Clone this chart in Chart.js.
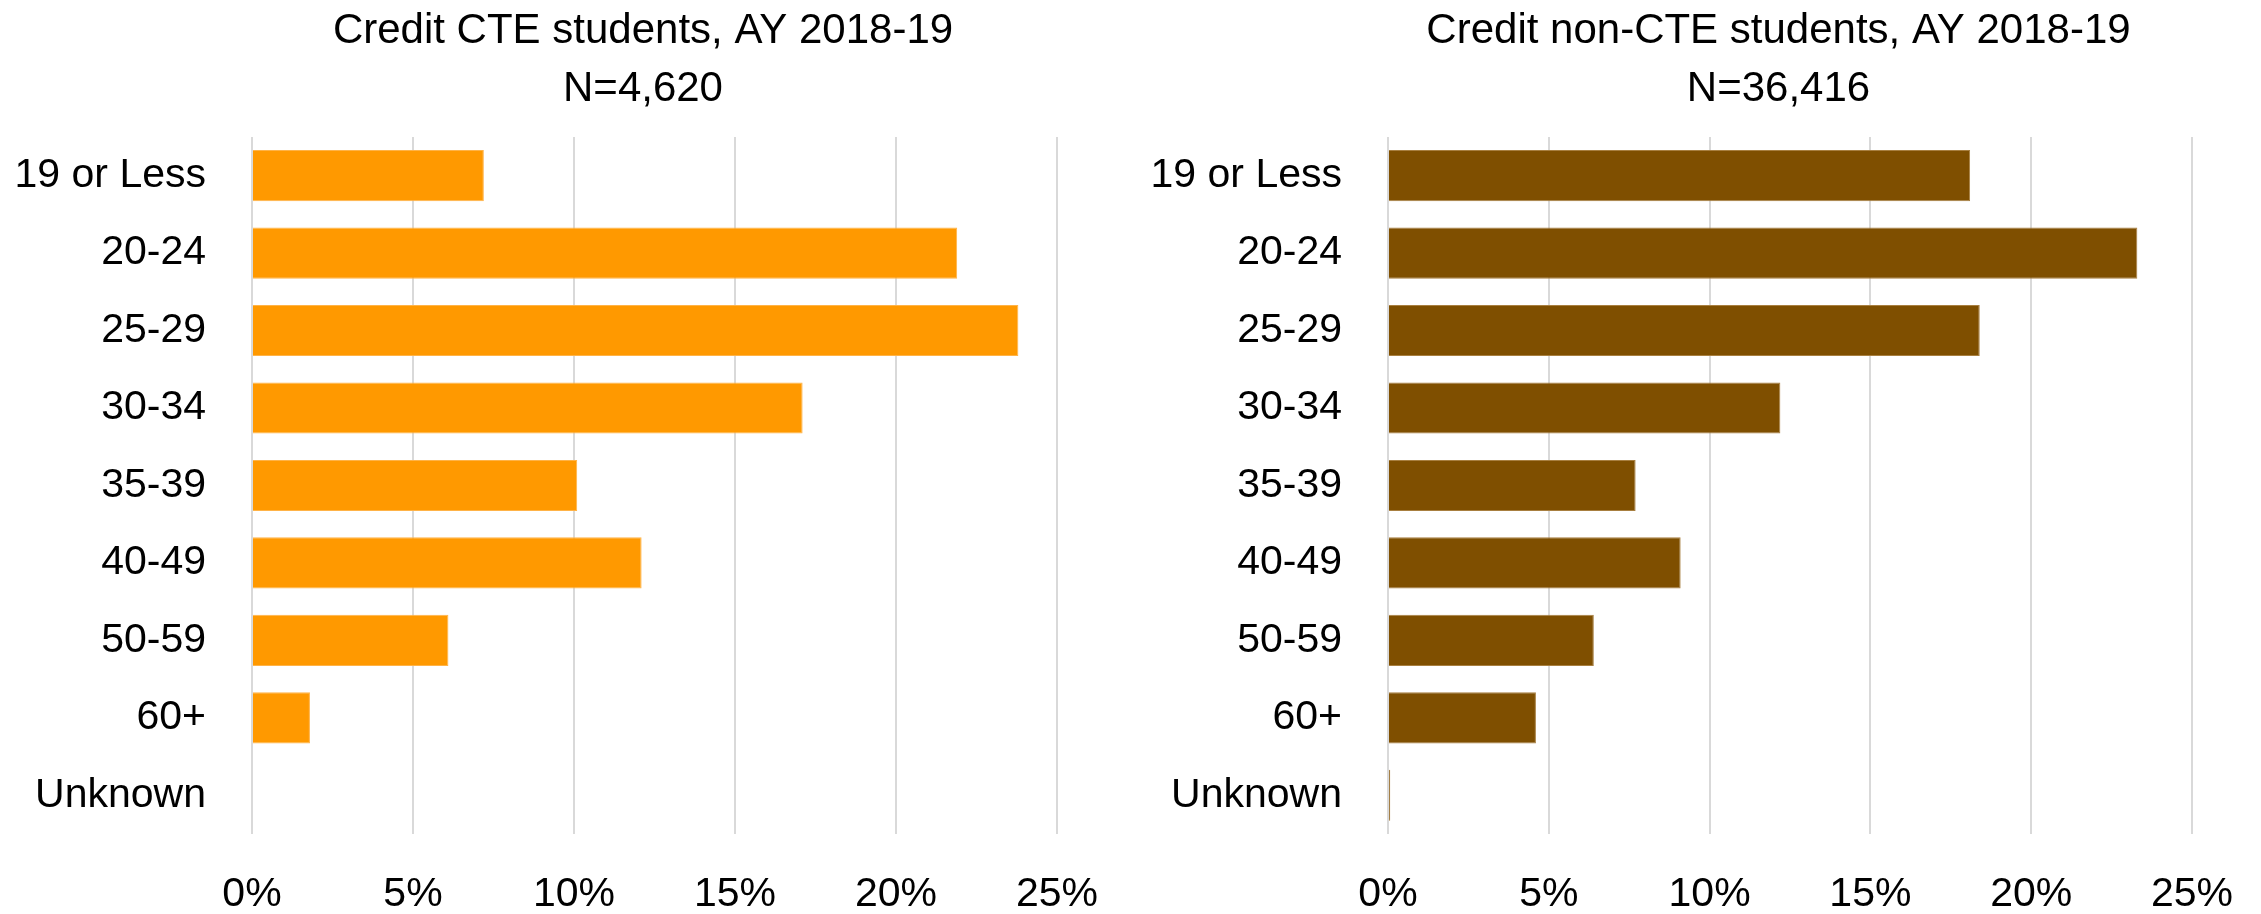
<!DOCTYPE html>
<html>
<head>
<meta charset="utf-8">
<script src="https://cdn.jsdelivr.net/npm/chart.js@4/dist/chart.umd.min.js"></script>
<style>
  html, body { margin: 0; padding: 0; background: #fff; overflow: hidden; width: 2261px; height: 914px; }
  .box { position: absolute; top: 0; height: 914px; }
  #left-box { left: 0; width: 1286px; }
  #right-box { left: 1140px; width: 1277px; }
</style>
</head>
<body>
<div class="box" id="left-box"><canvas id="cte-canvas"></canvas></div>
<div class="box" id="right-box"><canvas id="noncte-canvas"></canvas></div>
<script>
const ageGroups = ['19 or Less', '20-24', '25-29', '30-34', '35-39', '40-49', '50-59', '60+', 'Unknown']
const cteValues = [7.2, 21.9, 23.8, 17.1, 10.1, 12.1, 6.1, 1.8, 0]
const nonCteValues = [18.1, 23.3, 18.4, 12.2, 7.7, 9.1, 6.4, 4.6, 0.07]
const xTicks = [0, 5, 10, 15, 20, 25]
const cteTitle = ['Credit CTE students, AY 2018-19', 'N=4,620']
const nonCteTitle = ['Credit non-CTE students, AY 2018-19', 'N=36,416']

Chart.defaults.font.family = "'Liberation Sans', Arial, sans-serif"
Chart.defaults.color = '#000'

// leftWidth = room for age labels, rightWidth = empty space so the title centres like the original
function makeChart(id, title, values, fill, edge, leftWidth, rightWidth) {
  return new Chart(document.getElementById(id), {
    type: 'bar',
    data: {
      labels: ageGroups,
      datasets: [
        {
          data: values,
          backgroundColor: fill,
          borderColor: edge,
          borderWidth: 1,
          barPercentage: 0.66,
          categoryPercentage: 1,
        },
      ],
    },
    options: {
      indexAxis: 'y',
      responsive: true,
      maintainAspectRatio: false,
      animation: false,
      layout: { padding: 0 },
      plugins: {
        legend: { display: false },
        tooltip: { enabled: false },
        title: {
          display: true,
          text: title,
          color: '#000',
          font: { size: 42, weight: 'normal', lineHeight: 1.38 },
          padding: { top: 2, bottom: 19 },
        },
      },
      scales: {
        x: {
          min: 0,
          max: 25,
          afterBuildTicks: (scale) => {
            scale.ticks = xTicks.map((v) => ({ value: v }))
          },
          afterFit: (scale) => {
            scale.height = 80
          },
          ticks: {
            padding: 36,
            font: { size: 41 },
            callback: (v) => v + '%',
          },
          grid: { color: '#d9d9d9', lineWidth: 2, drawTicks: false },
          border: { display: false },
        },
        y: {
          afterFit: (scale) => {
            scale.width = leftWidth
          },
          ticks: { padding: 46, font: { size: 41 } },
          grid: { display: false, drawTicks: false },
          border: { display: false },
        },
        spacer: {
          type: 'category',
          position: 'right',
          afterFit: (scale) => {
            scale.width = rightWidth
          },
          ticks: { display: false },
          grid: { display: false, drawTicks: false },
          border: { display: false },
        },
      },
    },
  })
}

// left: CTE students
const cteChart = makeChart('cte-canvas', cteTitle, cteValues, '#ff9900', '#ffb347', 252, 229)

// right: non-CTE students
const nonCteChart = makeChart('noncte-canvas', nonCteTitle, nonCteValues, '#7f4f00', '#a87f40', 248, 225)
</script>
</body>
</html>
